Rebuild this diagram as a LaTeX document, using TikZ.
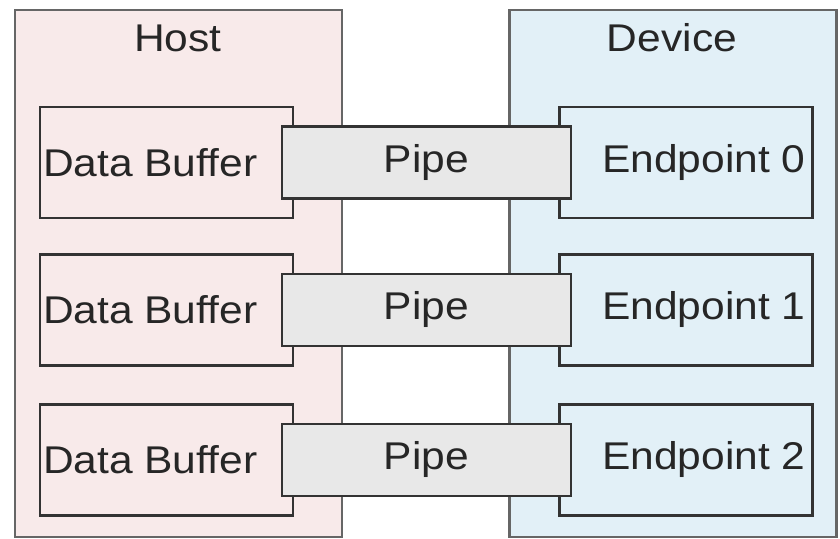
\documentclass[tikz,border=0pt]{standalone}
\usepackage{fontspec}
\setmainfont{Liberation Sans}
\definecolor{hostfill}{RGB}{248,234,234}
\definecolor{devfill}{RGB}{226,240,247}
\definecolor{pipefill}{RGB}{232,232,232}
\definecolor{edge}{RGB}{85,85,85}
\newcommand{\wide}[1]{\scalebox{1.1}[1]{#1}}
\begin{document}
\begin{tikzpicture}[x=0.75pt,y=-0.75pt]
	\tikzstyle{every node}+=[inner sep=0pt, outer sep=0pt, font=\fontsize{29}{34}\selectfont, text=black!85]
	\tikzstyle{side}=[draw=edge!90, line width=2.2pt, minimum width=327*0.75pt, minimum height=527*0.75pt]
	\tikzstyle{slot}=[draw=edge!120, line width=2.2pt, minimum width=253*0.75pt, minimum height=111*0.75pt]
	\tikzstyle{pipebox}=[draw=edge!120, fill=pipefill, line width=2.2pt, minimum width=289*0.75pt, minimum height=72*0.75pt]
	\useasboundingbox (0,0) rectangle (840,539);
	% host and device
	\node [side, fill=hostfill] (host) at (178.5,273.5) {};
	\node [side, fill=devfill] (device) at (673,273.5) {};
	\node (hostlabel) at (178,38) {\wide{Host}};
	\node (devlabel) at (672,38) {\wide{Device}};
	% buffers, endpoints and pipes
	\foreach \i/\y in {0/162.5, 1/310, 2/460} {
		\node [slot, fill=hostfill] (buf\i) at (166.5,\y) {};
		\node [slot, fill=devfill] (ep\i) at (686,\y) {};
		\node [pipebox] (pipe\i) at (426.5,\y) {\wide{Pipe}};
		\node [anchor=west] at ([xshift=3*0.75pt]buf\i.west) {\wide{Data Buffer}};
		\node [anchor=east] at ([xshift=-7*0.75pt]ep\i.east) {\wide{Endpoint \i}};
	}
\end{tikzpicture}
\end{document}
